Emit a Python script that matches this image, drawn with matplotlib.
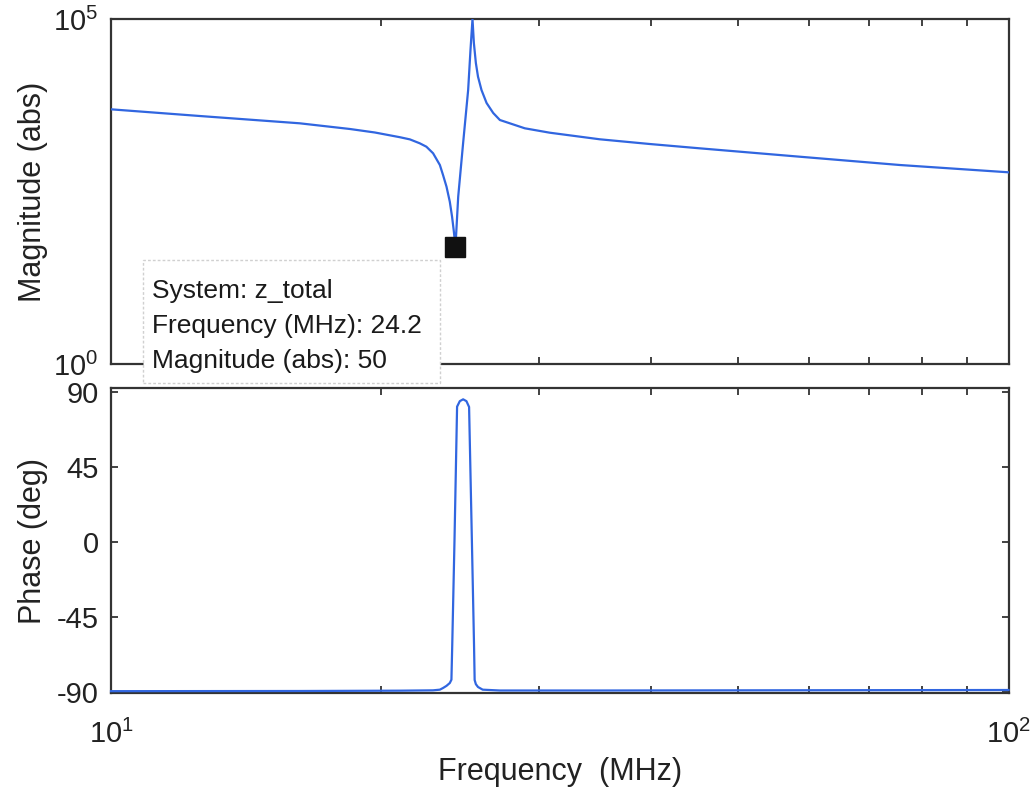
import matplotlib
matplotlib.use("Agg")
import matplotlib.pyplot as plt
from matplotlib.patches import FancyBboxPatch
from matplotlib.ticker import FixedLocator, NullFormatter, NullLocator

plt.rcParams['font.family'] = ['Liberation Sans', 'DejaVu Sans']
plt.rcParams['mathtext.fontset'] = 'custom'
plt.rcParams['mathtext.rm'] = 'Liberation Sans'
plt.rcParams['mathtext.it'] = 'Liberation Sans:italic'
plt.rcParams['axes.unicode_minus'] = False

# magnitude of z_total (abs) vs frequency (MHz)
mag_freq = [10, 12.56, 16.23, 18.46, 19.68, 20.98, 21.53, 22.08, 22.46, 22.85,
            23.25, 23.44, 23.65, 23.85, 23.99, 24.10, 24.2, 24.37, 24.68, 25.0,
            25.15, 25.28, 25.37, 25.50, 25.64, 25.87, 26.21, 26.66, 27.12, 28.91,
            30.82, 35.04, 39.83, 45.28, 58.52, 75.62, 100]
mag_abs = [4910, 3927, 3078, 2546, 2265, 1936, 1800, 1580, 1410, 1132,
           766, 548, 371, 225, 136, 83, 50, 266, 1596, 9355,
           35550, 100000, 44900, 23000, 14590, 9355, 6064, 4343, 3437, 2606,
           2250, 1806, 1543, 1336, 1010, 766, 600]

# phase (deg) vs frequency (MHz)
ph_freq = [10, 16.23, 20.98, 22.84, 23.25, 23.44, 23.65, 23.85, 23.95, 24.0,
           24.14, 24.30, 24.47, 24.68, 24.89, 25.06, 25.24, 25.38, 25.42, 25.50,
           25.64, 25.95, 27.12, 35.04, 100]
ph_deg = [-89.7, -89.6, -89.4, -89.2, -88.8, -87.8, -86.5, -84.8, -82.8, -62,
          1.2, 81.2, 84.5, 85.6, 84.5, 81, 1, -62, -83, -85.5,
          -87.2, -88.8, -89.3, -89.3, -89.0]

# data tip
tip_freq = 24.2
tip_mag = 50
tip_lines = ['System: z_total', 'Frequency (MHz): 24.2', 'Magnitude (abs): 50']

line_color = '#3166e0'
edge_color = '#333333'
minor_x = [20, 30, 40, 50, 60, 70, 80, 90]

W, H = 1035, 788
fig = plt.figure(figsize=(W / 100, H / 100), dpi=100, facecolor='white')

left, right = 111 / W, 1008.5 / W
ax_mag = fig.add_axes([left, 1 - 364 / H, right - left, (364 - 19) / H])
ax_ph = fig.add_axes([left, 1 - 693 / H, right - left, (693 - 388) / H])


def style_axes(ax):
    for sp in ax.spines.values():
        sp.set_color(edge_color)
        sp.set_linewidth(1.6)
    ax.set_xscale('log')
    ax.set_xlim(10, 100)
    ax.xaxis.set_minor_locator(FixedLocator(minor_x))
    ax.xaxis.set_minor_formatter(NullFormatter())
    ax.tick_params(which='both', direction='in', top=True, right=True,
                   color=edge_color, width=1.3, length=5,
                   labelsize=21, labelcolor='#222222')


# magnitude panel
style_axes(ax_mag)
ax_mag.plot(mag_freq, mag_abs, color=line_color, lw=1.6, zorder=3)
ax_mag.set_yscale('log')
ax_mag.set_ylim(1, 1e5)
ax_mag.yaxis.set_major_locator(FixedLocator([1, 1e5]))
ax_mag.yaxis.set_minor_locator(NullLocator())
ax_mag.tick_params(axis='x', which='both', labelbottom=False)
ax_mag.tick_params(axis='y', pad=9)
ax_mag.set_ylabel('Magnitude (abs)', fontsize=22, color='#222222', labelpad=4)
ax_mag.plot([tip_freq], [tip_mag], marker='s', ms=14, color='#111111',
            mec='#111111', zorder=5, clip_on=False)

# phase panel
style_axes(ax_ph)
ax_ph.plot(ph_freq, ph_deg, color=line_color, lw=1.6, zorder=3, clip_on=False)
ax_ph.set_ylim(-90.8, 92.4)
ax_ph.set_yticks([-90, -45, 0, 45, 90])
ax_ph.tick_params(axis='y', pad=9)
ax_ph.tick_params(axis='x', pad=19)
ax_ph.set_ylabel('Phase (deg)', fontsize=22, color='#222222', labelpad=6)
ax_ph.set_xlabel('Frequency  (MHz)', fontsize=22, color='#222222', labelpad=6)

# data tip box, drawn over both panels
box = FancyBboxPatch((143 / W, 1 - 383 / H), (440 - 143) / W, (383 - 260) / H,
                     boxstyle='square,pad=0', transform=fig.transFigure,
                     facecolor='white', edgecolor='#d0d0d0', lw=1.0,
                     linestyle=(0, (2, 1.5)), zorder=10)
fig.add_artist(box)
for i, txt in enumerate(tip_lines):
    fig.text(152 / W, 1 - (291 + 35 * i) / H, txt, fontsize=19,
             color='#1a1a1a', va='center', ha='left', zorder=11)

fig.savefig('out.png', dpi=100, facecolor='white')
